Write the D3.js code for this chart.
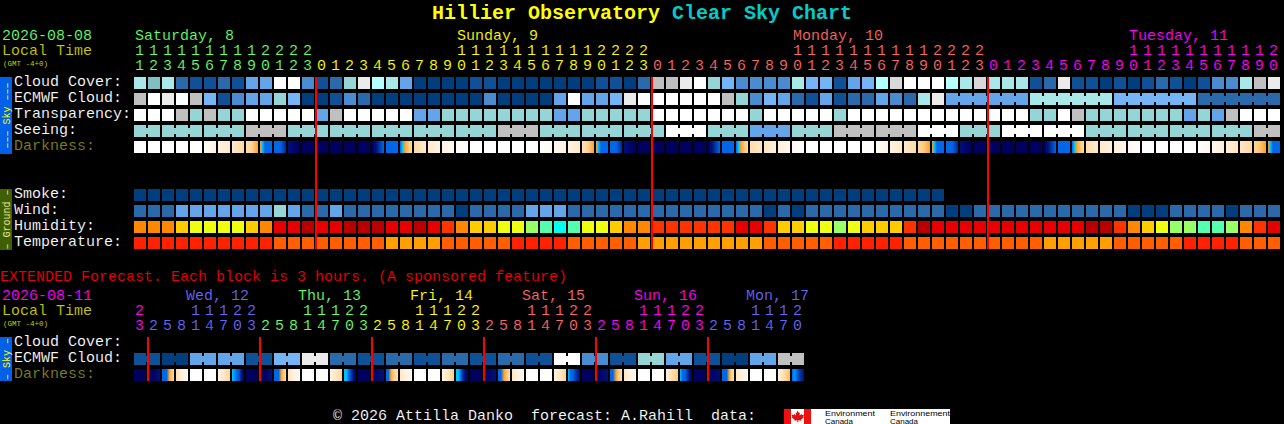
<!DOCTYPE html>
<html><head><meta charset="utf-8">
<script src="https://cdn.jsdelivr.net/npm/d3@7"></script>
<style>
html,body{margin:0;padding:0;background:#000;overflow:hidden}
svg{display:block}
text{font-family:"Liberation Mono",monospace;font-size:15px;white-space:pre;stroke:#000;stroke-width:.12px}
text.title{stroke:none}
text.logoText{stroke:none}
rect.cell{shape-rendering:crispEdges}
</style></head><body>
<script>
// ---- palettes
const cloudColors = ["#003e7e","#0f5096","#2a6aab","#4b8cd0","#64a4e8","#75b5f5","#80c0c0","#95d5d5","#a8e8e8","#b4ffff","#c0c0c0","#d8d8d8","#ebebeb","#ffffff"];
const humidityColors = ["#b80000","#e60000","#ff3300","#ff8800","#ffcc00","#eeff11","#99ff66","#55ffb0","#00ffee"];
const temperatureColors = ["#ff2200","#ff5f00","#ffa000"];
const darknessDomain = [0,1,2,3,4,5,6,7,8,9];
const darknessColors = ["#ffffff","#fff3e2","#ffe6c4","#ffd494","#ffa020","#00c0ff","#0068e8","#0040b0","#00107a","#00005f"];

// ---- 48-hour grid
const hours = [11,12,13,14,15,16,17,18,19,20,21,22,23,0,1,2,3,4,5,6,7,8,9,10,11,12,13,14,15,16,17,18,19,20,21,22,23,0,1,2,3,4,5,6,7,8,9,10,11,12,13,14,15,16,17,18,19,20,21,22,23,0,1,2,3,4,5,6,7,8,9,10,11,12,13,14,15,16,17,18,19,20];
const cloudCover = [8,6,8,2,1,1,2,1,4,4,13,13,3,1,2,7,12,9,8,4,0,0,0,0,1,1,0,0,0,0,0,0,0,1,1,0,2,10,10,12,13,7,5,3,3,3,3,8,5,5,1,4,5,9,11,13,13,13,9,8,11,8,8,8,1,2,12,1,1,0,1,0,1,2,1,0,1,3,3,8,10,12];
const ecmwfCloud = [10,13,12,13,10,5,1,3,4,4,7,5,0,0,1,3,2,0,0,0,0,0,0,0,0,3,0,0,0,0,4,13,4,4,5,12,13,13,13,13,13,13,10,7,3,5,4,2,1,4,1,2,2,4,3,2,8,12,4,4,4,4,4,4,8,8,8,8,8,8,5,5,5,5,5,5,2,2,2,2,2,2];
const ecmwfBlockLen = [1,1,1,1,1,1,1,1,1,1,1,1,1,1,1,1,1,1,1,1,1,1,1,1,1,1,1,1,1,1,1,1,1,1,1,1,1,1,1,1,1,1,1,1,1,1,1,1,1,1,1,1,1,1,1,1,1,1,6,6,6,6];
const transparency = [13,13,13,10,7,10,7,7,13,13,13,13,13,4,10,13,13,13,13,13,4,4,7,7,7,7,7,7,7,7,4,4,7,7,7,7,7,13,13,13,13,13,13,13,7,13,13,13,13,13,7,13,13,13,13,13,13,13,13,13,13,13,13,13,7,7,13,10,7,7,7,7,7,7,7,4,7,4,10,13,13,13];
const seeingBlocks = [7,7,7,10,7,7,7,7,7,10,7,7,7,13,7,4,7,10,10,13,7,13,13,7,7,7,7,10];
const seeingBlockLen = [2,3,3,3,3,3,3,3,3,3,3,3,3,3,3,3,3,3,3,3,3,3,3,3,3,3,3,2];
const darkness = [[0],[0],[0],[0],[0],[.2,1],[1,1.7],[1.7,2.8],[2.5,3,4],[4,5,6,6,6,6],[6,6,7.5],[8,8.6,9],[9],[9],[9],[9],[9],[9,8,7,6],[6],[6,5,4,3.5,3,2.8],[2.7,1.7],[1.7,1],[1,.4],[.4,0],
 [0],[0],[0],[0],[0],[0,.5],[.5,1],[1,1.8],[2.2,3,4],[4,5,6,6,6,6],[6,6,7.5],[8,8.6,9],[9],[9],[9],[9],[9],[9,8,7,6],[6],[6,5,4,3.5,3,2.8],[2.4,2],[2,1.3],[1.2,.6],[.6,.1],
 [0],[0],[0],[0],[0],[.2,.9],[1,1.8],[1.8,2.6],[2.8,3.2,4],[4,5,6,6,6,6],[6,6,7.5],[8,8.6,9],[9],[9],[9],[9],[9],[9,8,7,6],[6],[6,5,4,3.5,3,2.8],[2.5,1.8],[1.8,1.2],[1.2,.6],[.6,.1],
 [0],[0],[0],[0],[.1,.6],[.6,1.3],[1.3,2],[2,2.8],[3,3.3,4],[4,5,6,6,6,6]];
const smoke = [0,0,0,0,0,0,0,0,0,0,0,0,0,0,0,0,0,0,0,0,0,0,0,0,0,0,0,0,0,0,0,0,0,0,0,0,0,0,0,0,0,0,0,0,0,0,0,0,0,0,0,0,0,0,0,0,0,0];
const wind = [2,2,2,4,4,4,4,4,4,4,7,4,2,2,4,2,2,2,2,2,2,2,2,0,2,2,2,2,4,4,4,2,2,2,2,2,2,2,2,2,2,2,2,2,2,0,2,0,2,2,2,2,2,2,2,2,2,2,0,0,2,2,2,2,2,2,2,2,2,2,2,0,0,0,2,2,2,2,0,2,2,2];
const humidity = [3,3,3,4,5,5,5,5,4,3,1,1,0,1,1,0,0,0,1,1,0,1,2,3,4,4,5,5,6,7,8,7,5,5,4,3,3,2,2,2,2,2,2,1,1,2,4,4,5,5,6,5,4,4,4,2,0,1,1,1,1,1,1,1,1,1,1,1,0,0,2,3,4,5,6,6,7,7,6,3,2,1];
const temperature = [0,0,0,0,0,0,0,0,0,0,1,1,1,1,1,1,1,1,2,2,2,2,1,1,1,1,1,0,0,0,0,1,1,1,1,1,2,2,2,2,2,2,2,2,2,1,1,1,1,1,0,0,0,0,0,1,1,1,1,1,1,1,1,1,1,2,2,2,2,2,1,1,1,1,1,0,0,0,0,1,1,1];
const dayNames = ["Saturday, 8","Sunday, 9","Monday, 10","Tuesday, 11"];
const dayColumns = [0,23,47,71];
const dayPalette = ["#66ff66","#ffff00","#ff6666","#ff00ff","#6666ff"];
const midnightColumns = [13,37,61];

// ---- extended grid
const extHours = [23,2,5,8,11,14,17,20,23,2,5,8,11,14,17,20,23,2,5,8,11,14,17,20,23,2,5,8,11,14,17,20,23,2,5,8,11,14,17,20,23,2,5,8,11,14,17,20];
const extEcmwfBlocks = [1,0,4,4,1,5,12,2,1,2,1,2,1,2,1,13,3,1,7,4,1,0,4,10];
const extBlockLen = 2;
const extDarkness = [[9],[9,8.8,8],[6,6,6,4,3.2,2.8],[2.5,1.5,.8,.3],[0],[0,0,.2],[.8,2,3],[5,5.5,6,6.5,8,8.8],
 [9],[9,8.8,8],[6,6,6,4,3.2,2.6],[2.2,1,.4],[0],[0,.2],[1,2,3],[5,5,6,7,8,9],
 [9],[9,8.5,8],[6,6,4,3.2,2.6,2.4],[2,1,.4],[0],[0,.2],[1,2,3.2],[5,5,6,7.5,8.5,9],
 [9],[9,8.5,8],[6,6,4,3.2,2.6],[2,1,.4],[0],[0,.2],[1,2,3],[5,6,6,7,7.5,8.5],
 [9],[9,8.5,8],[6,6,4,3,2.6],[2,1,.4],[0],[0,.2],[1,2.5,3.2],[5,6,6,7,8,9],
 [9],[9,8.6,8.2],[6,6,6,4,3,2.6],[2,1,.4],[0],[0,.2],[1,2,3,3.5],[6,5.5,6,7,7.5,8]];
const extDayNames = ["Wed, 12","Thu, 13","Fri, 14","Sat, 15","Sun, 16","Mon, 17"];
const extDayColumns = [4,12,20,28,36,44];
const extDayPalette = ["#6666ff","#66ff66","#ffff00","#ff6666","#ff00ff","#6666ff"];
const extMidnightColumns = [1,9,17,25,33,41];

// ---- labels
const skyRows = ["Cloud Cover:","ECMWF Cloud:","Transparency:","Seeing:","Darkness:"];
const groundRows = ["Smoke:","Wind:","Humidity:","Temperature:"];
const extRows = ["Cloud Cover:","ECMWF Cloud:","Darkness:"];

// ---- scales
const W=1284,H=424,PITCH=14,GAP=2;
const svg=d3.select("body").append("svg").attr("width",W).attr("height",H).style("background","#000");
const defs=svg.append("defs");
const xMain=d3.scaleBand().domain(d3.range(hours.length)).range([134,134+hours.length*PITCH-GAP]).paddingInner(GAP/PITCH).paddingOuter(0);
const xExt=d3.scaleBand().domain(d3.range(extHours.length)).range([134,134+extHours.length*PITCH-GAP]).paddingInner(GAP/PITCH).paddingOuter(0);
const rowScale=(names,top)=>d3.scaleBand().domain(names).range([top,top+names.length*16-4]).paddingInner(.25).paddingOuter(0);
const ySky=rowScale(skyRows,77), yGround=rowScale(groundRows,189), yExt=rowScale(extRows,337);
const cloudFill=d3.scaleOrdinal().domain(d3.range(cloudColors.length)).range(cloudColors);
const humFill=d3.scaleOrdinal().domain(d3.range(humidityColors.length)).range(humidityColors);
const tempFill=d3.scaleOrdinal().domain(d3.range(temperatureColors.length)).range(temperatureColors);
const darkFill=d3.scaleLinear().domain(darknessDomain).range(darknessColors).interpolate(d3.interpolateRgb);

// ---- drawing helpers
function cells(x,y,row,vals,fill){
  svg.append("g").selectAll("rect").data(vals).join("rect").attr("class","cell")
    .attr("x",(d,i)=>x(i)).attr("y",y(row)).attr("width",x.bandwidth()).attr("height",y.bandwidth()).attr("fill",d=>fill(d));
}
function blocks(x,y,row,vals,lens,fill){
  // each block is a run of cells tied together by a narrow waist
  const g=svg.append("g"); let col=0;
  vals.forEach((v,b)=>{
    const n=Array.isArray(lens)?lens[b]:lens, cols=d3.range(col,col+n);
    g.selectAll(null).data(cols).join("rect").attr("class","cell")
      .attr("x",i=>x(i)).attr("y",y(row)).attr("width",x.bandwidth()).attr("height",y.bandwidth()).attr("fill",fill(v));
    g.selectAll(null).data(cols.slice(1)).join("rect").attr("class","cell")
      .attr("x",i=>x(i)-GAP).attr("y",y(row)+3).attr("width",GAP).attr("height",y.bandwidth()-6).attr("fill",fill(v));
    col+=n;
  });
}
let gradId=0;
function gradientCells(x,y,row,vals){
  svg.append("g").selectAll("rect").data(vals).join("rect").attr("class","cell")
    .attr("x",(d,i)=>x(i)).attr("y",y(row)).attr("width",x.bandwidth()).attr("height",y.bandwidth())
    .attr("fill",d=>{
      if(d.length===1) return darkFill(d[0]);
      const id="dk"+(gradId++);
      defs.append("linearGradient").attr("id",id).selectAll("stop").data(d).join("stop")
        .attr("offset",(v,i)=>i/(d.length-1)).attr("stop-color",v=>darkFill(v));
      return "url(#"+id+")";
    });
}
function txt(s,x,y,fill,o={}){
  const t=svg.append("text").attr("x",x).attr("y",y).attr("fill",fill).text(s);
  Object.entries(o).forEach(([k,v])=>t.style(k,v));
  return t;
}
function sideTab(y0,y1,fill,color,label){
  svg.append("rect").attr("class","cell").attr("x",0).attr("y",y0).attr("width",12).attr("height",y1-y0).attr("fill",fill);
  svg.append("text").attr("transform",`translate(9.5,${(y0+y1)/2}) rotate(-90)`).attr("text-anchor","middle")
    .attr("fill",color).style("font-size","10px").style("stroke","none").text(label);
}

// ---- title
const title=svg.append("text").attr("class","title").attr("x",432).attr("y",19).style("font-size","20px").style("font-weight","bold");
title.append("tspan").attr("fill","#ffff00").text("Hillier Observatory ");
title.append("tspan").attr("fill","#00cccc").text("Clear Sky Chart");

// ---- main header
const small={"font-size":"7.5px","stroke":"none"};
txt("2026-08-08",2,40,dayPalette[0]);
txt("Local Time",2,55,"#c8c800");
txt("(GMT -4+0)",3,66,"#c8c800",small);
dayNames.forEach((n,i)=>txt(n,xMain(dayColumns[i])+1,40,dayPalette[i]));
const dayOf=(i,mids)=>mids.filter(m=>m<=i).length;
svg.append("g").selectAll("text").data(hours.map((h,i)=>({h,i}))).join("text")
  .attr("x",d=>xMain(d.i)+5.5).attr("y",70).attr("text-anchor","middle").attr("fill",d=>dayPalette[dayOf(d.i,midnightColumns)]).text(d=>d.h%10);
svg.append("g").selectAll("text").data(hours.map((h,i)=>({h,i})).filter(d=>d.h>=10)).join("text")
  .attr("x",d=>xMain(d.i)+5.5).attr("y",55).attr("text-anchor","middle").attr("fill",d=>dayPalette[dayOf(d.i,midnightColumns)]).text(d=>Math.floor(d.h/10));

// ---- labels + side tabs
sideTab(77,154,"#0060e8","#ffff00","\u2013\u2013\u2013 Sky \u2013\u2013\u2013");
sideTab(189,250,"#3f6000","#e8e8a0","\u2013 Ground \u2013");
skyRows.forEach(r=>txt(r,14,ySky(r)+9,r==="Darkness:"?"#808020":"#ffffff"));
groundRows.forEach(r=>txt(r,14,yGround(r)+9,"#ffffff"));

// ---- main rows
cells(xMain,ySky,"Cloud Cover:",cloudCover,cloudFill);
const ecmwfValues=[];{let c=0;ecmwfBlockLen.forEach(n=>{ecmwfValues.push(ecmwfCloud[c]);c+=n;});}
blocks(xMain,ySky,"ECMWF Cloud:",ecmwfValues,ecmwfBlockLen,cloudFill);
cells(xMain,ySky,"Transparency:",transparency,cloudFill);
blocks(xMain,ySky,"Seeing:",seeingBlocks,seeingBlockLen,cloudFill);
gradientCells(xMain,ySky,"Darkness:",darkness);
cells(xMain,yGround,"Smoke:",smoke,cloudFill);
cells(xMain,yGround,"Wind:",wind,cloudFill);
cells(xMain,yGround,"Humidity:",humidity,humFill);
cells(xMain,yGround,"Temperature:",temperature,tempFill);
svg.append("g").selectAll("rect").data(midnightColumns).join("rect").attr("class","cell")
  .attr("x",c=>xMain(c)-1).attr("y",ySky.range()[0]).attr("width",GAP).attr("height",yGround.range()[1]-ySky.range()[0]).attr("fill","#ff0000");

// ---- extended
txt("EXTENDED Forecast. Each block is 3 hours. (A sponsored feature)",0,281,"#ee0000");
txt("2026-08-11",2,300,"#ff00ff");
txt("Local Time",2,315,"#c8c800");
txt("(GMT -4+0)",3,326,"#c8c800",small);
extDayNames.forEach((n,i)=>txt(n,xExt(extDayColumns[i])-4,300,extDayPalette[i]));
const extColor=i=>i<1?"#ff00ff":extDayPalette[dayOf(i,extMidnightColumns)-1];
svg.append("g").selectAll("text").data(extHours.map((h,i)=>({h,i}))).join("text")
  .attr("x",d=>xExt(d.i)+5.5).attr("y",330).attr("text-anchor","middle").attr("fill",d=>extColor(d.i)).text(d=>d.h%10);
svg.append("g").selectAll("text").data(extHours.map((h,i)=>({h,i})).filter(d=>d.h>=10)).join("text")
  .attr("x",d=>xExt(d.i)+5.5).attr("y",315).attr("text-anchor","middle").attr("fill",d=>extColor(d.i)).text(d=>Math.floor(d.h/10));
sideTab(337,381,"#0060e8","#ffff00","\u2013 Sky \u2013");
extRows.forEach(r=>txt(r,14,yExt(r)+9,r==="Darkness:"?"#808020":"#ffffff"));
blocks(xExt,yExt,"ECMWF Cloud:",extEcmwfBlocks,extBlockLen,cloudFill);
gradientCells(xExt,yExt,"Darkness:",extDarkness);
svg.append("g").selectAll("rect").data(extMidnightColumns).join("rect").attr("class","cell")
  .attr("x",c=>xExt(c)-1).attr("y",yExt.range()[0]).attr("width",GAP).attr("height",yExt.range()[1]-yExt.range()[0]).attr("fill","#ff0000");

// ---- footer + logo
txt("\u00a9 2026 Attilla Danko  forecast: A.Rahill  data:",333,420,"#ffffff");
const logo=svg.append("g").attr("transform","translate(784,409)");
logo.append("rect").attr("class","cell").attr("width",166).attr("height",15).attr("fill","#fff");
logo.append("rect").attr("class","cell").attr("width",7).attr("height",15).attr("fill","#f01010");
logo.append("rect").attr("class","cell").attr("x",20).attr("width",7).attr("height",15).attr("fill","#f01010");
logo.append("path").attr("fill","#e01010").attr("d","M13.5 1.5l1.5 2.5 1-.5-.5 3 2-1.5.5 1 2-.3-.7 2 .7.5-3 2.5.3 1-3-.4v2h-1v-2l-3 .4.3-1-3-2.5.7-.5-.7-2 2 .3.5-1 2 1.5-.5-3 1 .5z");
[["Environment",41,50],["Canada",41,28],["Environnement",106,60],["Canada",106,28]].forEach((d,i)=>{
  logo.append("text").attr("class","logoText").attr("x",d[1]).attr("y",i%2?14.5:6.5).attr("fill","#000")
    .attr("textLength",d[2]).attr("lengthAdjust","spacingAndGlyphs")
    .style("font-family","'Liberation Sans',sans-serif").style("font-size","7px").text(d[0]);
});
</script>
</body></html>
